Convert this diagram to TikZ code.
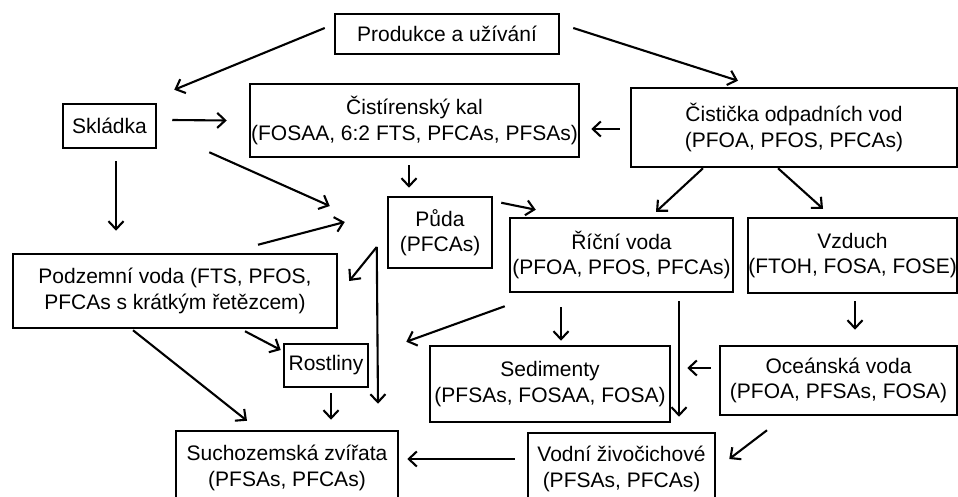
\documentclass[tikz,border=0pt]{standalone}
\usepackage{fontspec}
\setmainfont{Liberation Sans}
\usetikzlibrary{arrows.meta}
\begin{document}
\begin{tikzpicture}[x=1pt,y=-1pt,
  box/.style={draw=black,line width=2.5pt,inner sep=0pt,align=center,
    font=\fontsize{21}{25.5}\selectfont},
  arr/.style={line width=2.1pt,-{Straight Barb[length=8pt,width=15pt]}}]
\useasboundingbox (0,0) rectangle (958,497);
\clip (0,0) rectangle (958,497);
\node[box,minimum width=224pt,minimum height=40pt] (prod) at (447,34) {Produkce a užívání};
\node[box,minimum width=93pt,minimum height=44pt] (skl) at (109.5,126) {Skládka};
\node[box,minimum width=329pt,minimum height=73pt] (kal) at (414.5,120.5) {Čistírenský kal\\(FOSAA, 6:2 FTS, PFCAs, PFSAs)};
\node[box,minimum width=326pt,minimum height=79pt] (cist) at (794,127.5) {Čistička odpadních vod\\(PFOA, PFOS, PFCAs)};
\node[box,minimum width=104pt,minimum height=71pt] (puda) at (440,232.5) {Půda\\(PFCAs)};
\node[box,minimum width=223pt,minimum height=74pt] (ricni) at (621.5,255) {Říční voda\\(PFOA, PFOS, PFCAs)};
\node[box,minimum width=209pt,minimum height=75pt] (vzd) at (852.5,255.5) {Vzduch\\(FTOH, FOSA, FOSE)};
\node[box,minimum width=324pt,minimum height=74pt] (podz) at (175,291) {Podzemní voda (FTS, PFOS,\\PFCAs s krátkým řetězcem)};
\node[box,minimum width=84pt,minimum height=43pt] (rost) at (326,365.5) {Rostliny};
\node[box,minimum width=240pt,minimum height=76pt] (sed) at (550,384) {Sedimenty\\(PFSAs, FOSAA, FOSA)};
\node[box,minimum width=237pt,minimum height=69pt] (ocean) at (838.5,380.5) {Oceánská voda\\(PFOA, PFSAs, FOSA)};
\node[box,minimum width=222pt,minimum height=74pt] (such) at (287,468) {Suchozemská zvířata\\(PFSAs, PFCAs)};
\node[box,minimum width=187pt,minimum height=72pt] (vodni) at (621.5,469) {Vodní živočichové\\(PFSAs, PFCAs)};
% connectors
\draw[arr] ([shift={(-9,-6)}]prod.west) -- ([shift={(17,-13)}]skl.north east);
\draw[arr] ([shift={(13,-6)}]prod.east) -- ([shift={(-56,-6)}]cist.north);
\draw[arr] ([shift={(-10,1.5)}]cist.west) -- ([shift={(11,8.5)}]kal.east);
\draw[arr] ([shift={(15,-6)}]skl.east) -- ([shift={(-22,0)}]kal.west);
\draw[arr] ([shift={(52,3)}]skl.south east) -- ([shift={(-57,-26.5)}]puda.west);
\draw[arr] ([shift={(-5.5,7)}]kal.south) -- ([shift={(-31,-8)}]puda.north);
\draw[arr] ([shift={(6.5,12)}]skl.south) -- ([shift={(-59,-22)}]podz.north);
\draw[arr] ([shift={(83,-8)}]podz.north) -- ([shift={(-42,-10.5)}]puda.west);
\draw[arr] ([shift={(-91,0)}]cist.south) -- ([shift={(34.5,-5)}]ricni.north);
\draw[arr] ([shift={(-16,0)}]cist.south) -- ([shift={(-29.5,-8)}]vzd.north);
\draw[arr] ([shift={(8,7)}]puda.north east) -- ([shift={(27,-7)}]ricni.north west);
\draw[arr] ([shift={(-10,14.5)}]puda.west) -- ([shift={(11,-10)}]podz.east);
\draw[arr] ([shift={(-10,14.5)}]puda.west) -- ([shift={(91,-26)}]such.north);
\draw[arr] ([shift={(70,2)}]podz.south) -- ([shift={(-2,-15.5)}]rost.west);
\draw[arr] ([shift={(-42,1)}]podz.south) -- ([shift={(-40,-9)}]such.north);
\draw[arr] ([shift={(5,5)}]rost.south) -- ([shift={(44,-10)}]such.north);
\draw[arr] ([shift={(-4,13)}]ricni.south west) -- ([shift={(37,-1)}]rost.north east);
\draw[arr] ([shift={(-60.5,14)}]ricni.south) -- ([shift={(11,-4)}]sed.north);
\draw[arr] ([shift={(57.5,8)}]ricni.south) -- ([shift={(57.5,-15)}]vodni.north);
\draw[arr] ([shift={(2.5,7)}]vzd.south) -- ([shift={(16.5,-15)}]ocean.north);
\draw[arr] ([shift={(-8,-12.5)}]ocean.west) -- ([shift={(16,-16)}]sed.east);
\draw[arr] ([shift={(-71.5,14)}]ocean.south) -- ([shift={(13,-10)}]vodni.east);
\draw[arr] ([shift={(-12,-10)}]vodni.west) -- ([shift={(8,-9)}]such.east);
\end{tikzpicture}
\end{document}
